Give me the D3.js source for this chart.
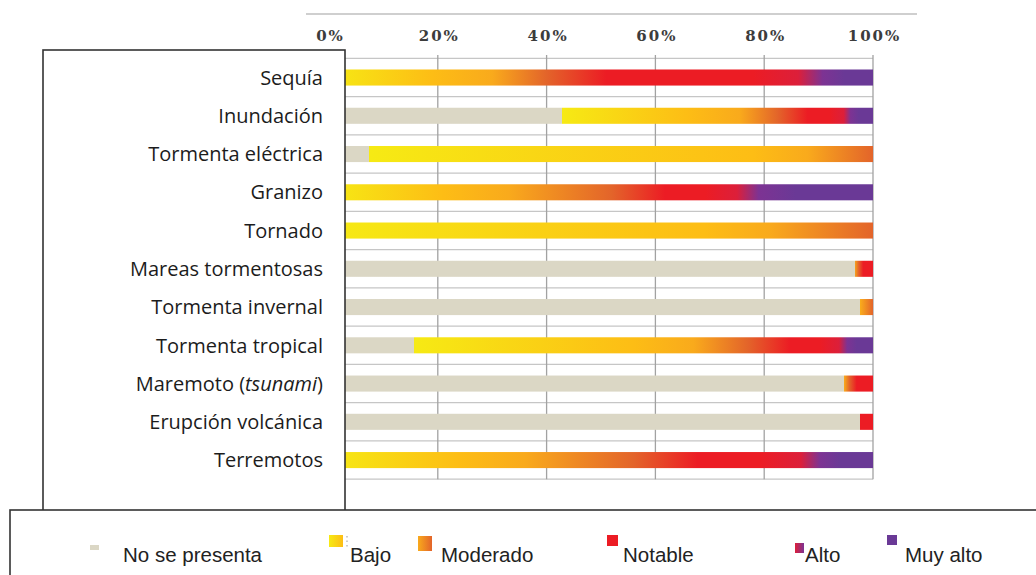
<!DOCTYPE html>
<html><head><meta charset="utf-8">
<script src="https://cdn.jsdelivr.net/npm/d3@7"></script>
<style>body{margin:0;background:#fff;} svg{display:block}</style>
</head><body>
<svg id="chart" width="1036" height="575"></svg>
<script>
// ---------- DATA ----------
const categories = ["Sequía","Inundación","Tormenta eléctrica","Granizo","Tornado","Mareas tormentosas","Tormenta invernal","Tormenta tropical","Maremoto (tsunami)","Erupción volcánica","Terremotos"];
const levels = ["No se presenta","Bajo","Moderado","Notable","Alto","Muy alto"];
const noSePresenta = [0, 42.8, 7.4, 0, 0, 96.6, 97.7, 15.6, 94.7, 97.7, 0];
const bajo         = [25, 29.2, 76.6, 27, 75, 0, 0, 46.4, 0, 0, 30];
const moderado     = [20, 14, 16, 31, 25, 1.0, 2.3, 20, 1.3, 0, 32];
const notable      = [39, 8, 0, 15, 0, 2.4, 0, 11, 4, 2.3, 23];
const alto         = [9, 2.5, 0, 8, 0, 0, 0, 3, 0, 0, 7];
const muyAlto      = [7, 3.5, 0, 19, 0, 0, 0, 4, 0, 0, 8];
const tickValues = [0, 20, 40, 60, 80, 100];
const tickLabels = ["0%", "20%", "40%", "60%", "80%", "100%"];

// ---------- STYLE ----------
const colStart = ["#dbd7c5", "#f6ea14", "#f9aa1c", "#ec1c24", "#dc1f3a", "#6a3996"];
const colEnd   = ["#dbd7c5", "#fdbd15", "#e3642a", "#ec1c24", "#7d3393", "#6a3996"];
const series = [noSePresenta, bajo, moderado, notable, alto, muyAlto];

const svg = d3.select("#chart");
const defs = svg.append("defs");

const x = d3.scaleLinear().domain([0, 100]).range([329, 873]);
const y = d3.scaleBand().domain(categories).range([58.4, 479.2]).paddingInner(0.58).paddingOuter(0.29);

// top decorative axis line
svg.append("line").attr("x1", 306).attr("x2", 917).attr("y1", 14).attr("y2", 14)
  .attr("stroke", "#cfcfcf").attr("stroke-width", 2);

// top axis labels
const axis = d3.axisTop(x).tickValues(tickValues).tickFormat((d, i) => tickLabels[i]).tickSize(0);
const ax = svg.append("g").attr("transform", "translate(0,41)").call(axis);
ax.select(".domain").remove();
ax.selectAll("text").attr("y", 0).attr("dy", 0).attr("dx", 1)
  .attr("font-family", "'DejaVu Serif', serif").attr("font-weight", "bold")
  .attr("font-size", 15).attr("letter-spacing", 2).attr("fill", "#3c3c3c");

// grid
const step = y.step();
const y0 = y.range()[0];
const rowLines = d3.range(categories.length + 1).map(i => y0 + i * step);
svg.append("g").selectAll("line").data(rowLines).join("line")
  .attr("x1", x(0)).attr("x2", x(100)).attr("y1", d => d).attr("y2", d => d)
  .attr("stroke", "#c6c6c6").attr("stroke-width", 1.3);
svg.append("g").selectAll("line").data(tickValues.slice(1)).join("line")
  .attr("x1", d => x(d)).attr("x2", d => x(d)).attr("y1", 55).attr("y2", y.range()[1])
  .attr("stroke", "#a2a2a2").attr("stroke-width", 1.3);

// bars with gradients
categories.forEach((cat, ci) => {
  const segs = [];
  let acc = 0;
  series.forEach((s, li) => {
    const v = s[ci];
    if (v > 0) { segs.push({ li, s: acc, e: acc + v }); acc += v; }
  });
  const g = defs.append("linearGradient").attr("id", "grad" + ci)
    .attr("gradientUnits", "userSpaceOnUse")
    .attr("x1", x(0)).attr("x2", x(100)).attr("y1", 0).attr("y2", 0);
  segs.forEach((sg, k) => {
    const L = sg.e - sg.s;
    const blend = Math.min(0.25 * L, 6);
    const prevBeige = k === 0 || segs[k - 1].li === 0;
    const isLast = k === segs.length - 1;
    if (sg.li === 0) {
      g.append("stop").attr("offset", sg.s / 100).attr("stop-color", colStart[0]);
      g.append("stop").attr("offset", sg.e / 100).attr("stop-color", colEnd[0]);
    } else {
      g.append("stop").attr("offset", (sg.s + (prevBeige ? 0 : blend)) / 100).attr("stop-color", colStart[sg.li]);
      g.append("stop").attr("offset", (sg.e - (isLast ? 0 : blend)) / 100).attr("stop-color", colEnd[sg.li]);
    }
  });
  svg.append("rect")
    .attr("x", x(0)).attr("width", x(100) - x(0))
    .attr("y", y(cat)).attr("height", y.bandwidth())
    .attr("fill", "url(#grad" + ci + ")");
});

// left label box (covers the start of the bars)
svg.append("rect").attr("x", 43).attr("y", 50).attr("width", 302).attr("height", 470)
  .attr("fill", "#fff").attr("stroke", "#333").attr("stroke-width", 1.6);

// category labels
const lab = svg.append("g").selectAll("text").data(categories).join("text")
  .attr("x", 323).attr("y", d => y(d) + y.bandwidth() / 2).attr("dy", "0.36em")
  .attr("text-anchor", "end").attr("font-family", "'Open Sans', sans-serif")
  .attr("font-size", 20).attr("fill", "#1c1c1c");
lab.each(function (d) {
  const t = d3.select(this);
  const m = d.match(/^(.*\()(.*)(\))$/);
  if (m) {
    t.append("tspan").text(m[1]);
    t.append("tspan").attr("font-style", "italic").text(m[2]);
    t.append("tspan").text(m[3]);
  } else t.text(d);
});

// legend box
svg.append("rect").attr("x", 10).attr("y", 510).attr("width", 1040).attr("height", 80)
  .attr("fill", "#fff").attr("stroke", "#333").attr("stroke-width", 1.6);

// legend gradients
levels.forEach((lv, i) => {
  const g = defs.append("linearGradient").attr("id", "lg" + i).attr("x1", 0).attr("x2", 1).attr("y1", 0).attr("y2", 0);
  g.append("stop").attr("offset", 0).attr("stop-color", colStart[i]);
  g.append("stop").attr("offset", 1).attr("stop-color", colEnd[i]);
});
const legSw = [
  { x: 90, y: 545, w: 9, h: 5 },
  { x: 329, y: 535, w: 14, h: 12 },
  { x: 418, y: 536, w: 14, h: 15 },
  { x: 607, y: 535, w: 11, h: 11 },
  { x: 795, y: 543, w: 9, h: 10 },
  { x: 887, y: 535, w: 10, h: 10 }
];
const legTx = [123, 350, 441, 623, 805, 905];
const lg = svg.append("g");
levels.forEach((lv, i) => {
  lg.append("rect").attr("x", legSw[i].x).attr("y", legSw[i].y)
    .attr("width", legSw[i].w).attr("height", legSw[i].h).attr("fill", "url(#lg" + i + ")");
  lg.append("text").attr("x", legTx[i]).attr("y", 562).text(lv)
    .attr("font-family", "'Liberation Sans', Arial, sans-serif").attr("font-size", 20.5)
    .attr("fill", "#222");
});
// small dotted mark next to "Bajo" swatch
lg.append("line").attr("x1", 347).attr("x2", 347).attr("y1", 536).attr("y2", 547)
  .attr("stroke", "#999").attr("stroke-width", 1).attr("stroke-dasharray", "1.5,3");
</script>
</body></html>
